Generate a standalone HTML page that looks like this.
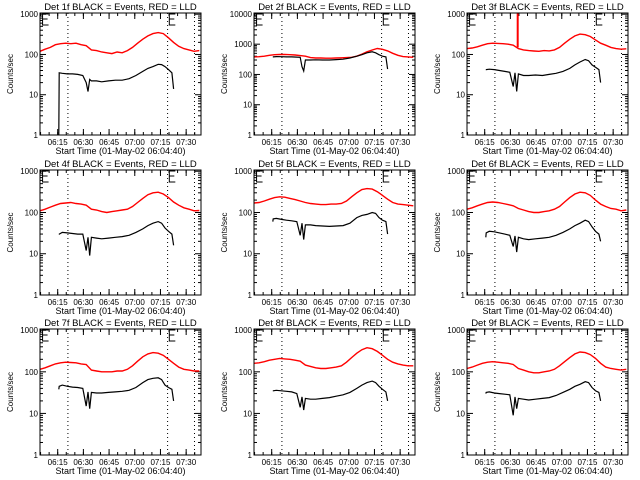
<!DOCTYPE html>
<html><head><meta charset="utf-8"><style>
body{margin:0;background:#fff;}
svg{display:block;}
text{font-family:"Liberation Sans",sans-serif;fill:#000;}
</style></head><body>
<svg id="chart" width="640" height="480" viewBox="0 0 640 480"></svg>
<script>
const redTimes=[0,3,6,9,12,15,18,21,24,27,30,33,36,39,42,45,48,51,54,57,60,63,66,69,72,75,78,81,84,87,90,93];
const blackTimes=[11,11.2,13,16,19,22,25,27,28,29,30,33,36,40,44,48,52,56,60,63,66,69,71,73,75,77,78];
const panelNames=["1f","2f","3f","4f","5f","6f","7f","8f","9f"];
const panelDecades=[3,4,3,3,3,3,3,3,3];
const xTickLabels=["06:15","06:30","06:45","07:00","07:15","07:30"];
const xTickTimes=[10.333,25.333,40.333,55.333,70.333,85.333];
const dottedTimes=[16.3,74.5,90.2];
const eMarkTimes=[1.5,75.5];
const spikeTime3=29.6;
const spikeVals3=[150,1100];
const red1=[120,135,150,175,185,190,185,190,175,165,130,125,115,110,105,115,110,125,150,190,240,290,330,350,330,260,200,160,140,130,120,125];
const red2=[380,385,400,430,450,455,460,450,440,420,400,360,350,350,345,345,350,355,360,370,400,470,560,640,720,680,600,500,430,390,380,370];
const red3=[140,145,155,170,185,190,188,185,180,170,140,130,125,122,120,125,123,130,150,190,240,290,320,310,280,230,190,170,150,140,135,138];
const red4=[110,120,135,150,165,170,175,165,160,150,120,115,105,100,105,110,115,120,140,175,220,270,300,310,280,230,180,150,130,120,110,112];
const red5=[170,175,190,210,230,240,235,220,205,190,175,165,160,155,155,160,160,165,190,240,300,360,380,370,320,260,210,175,160,155,150,145];
const red6=[120,130,145,160,175,180,175,165,155,145,125,115,105,100,100,105,110,120,140,180,230,280,310,300,260,200,160,140,125,120,110,115];
const red7=[115,125,140,155,165,170,168,165,155,150,110,105,100,100,100,105,105,115,140,180,230,270,290,280,250,200,160,130,115,110,105,105];
const red8=[160,165,175,190,200,210,205,200,190,180,145,135,125,120,120,125,130,140,170,220,280,340,380,360,310,250,200,170,155,145,140,140];
const red9=[120,130,145,160,170,175,170,165,160,150,120,110,100,95,95,100,105,115,140,175,220,270,300,290,260,210,160,130,120,115,110,115];
const black1=[1,35,34,33,33,32,30,20,12,24,22,22,21,22,23,23,25,30,38,45,50,57,56,50,42,35,14];
const black2=[380,380,390,385,380,380,375,370,180,130,300,300,305,300,300,310,320,350,400,450,520,560,520,450,400,380,150];
const black3=[42,42,43,42,40,38,36,16,35,12,33,30,30,31,30,32,34,38,45,55,65,75,70,55,48,42,20];
const black4=[30,30,33,32,31,30,30,12,25,9,25,24,23,24,25,26,28,33,40,48,55,60,55,42,35,30,16];
const black5=[60,70,72,68,65,63,60,28,55,22,50,50,48,47,46,47,48,55,75,85,90,100,95,75,65,60,30];
const black6=[25,32,35,34,32,30,28,15,27,11,25,23,22,23,24,25,28,33,40,48,55,65,60,45,35,30,20];
const black7=[38,45,48,45,43,42,40,15,33,13,32,31,31,32,33,34,36,42,55,65,70,72,65,48,42,38,20];
const black8=[35,35,36,35,34,33,30,14,25,12,23,22,22,23,24,26,28,32,40,48,55,60,55,45,38,33,20];
const black9=[30,32,33,31,30,29,28,9,25,13,23,22,21,22,23,24,27,32,38,45,50,58,55,42,35,32,20];
const redSeries=[red1,red2,red3,red4,red5,red6,red7,red8,red9];
const blackSeries=[black1,black2,black3,black4,black5,black6,black7,black8,black9];

const svg=document.getElementById('chart');
const NS='http://www.w3.org/2000/svg';
const colLeft=[40,254,467], plotW=161;
const rowTop=[13,170,329], rowBot=[135,295,455];
const tMax=94;
function mk(tag,attrs,parent){const e=document.createElementNS(NS,tag);for(const k in attrs)e.setAttribute(k,attrs[k]);(parent||svg).appendChild(e);return e;}

panelNames.forEach((nm,i)=>{
  const c=i%3,r=Math.floor(i/3);
  const L=colLeft[c],R=L+plotW,T=rowTop[r],B=rowBot[r];
  const dec=panelDecades[i], top=dec+0.03;
  const xs=t=>L+t/tMax*plotW;
  const ys=v=>B-(Math.log10(Math.max(v,1)))/top*(B-T);
  const g=mk('g',{});
  
  
  const title=mk('text',{x:(L+R)/2,y:T-3,'text-anchor':'middle','font-size':'9.5'},g);
  
  
  title.textContent='Det '+nm+' BLACK = Events, RED = LLD';
  const yt=mk('text',{x:0,y:0,'text-anchor':'middle','font-size':'8',transform:`translate(${L-27},${(T+B)/2}) rotate(-90)`},g);
  
  
  yt.textContent='Counts/sec';
  const xt=mk('text',{x:(L+R)/2,y:B+19,'text-anchor':'middle','font-size':'9'},g);
  
  
  xt.textContent='Start Time (01-May-02 06:04:40)';
  for(let d=0;d<=dec;d++){
    const y=ys(Math.pow(10,d));
    mk('line',{x1:L,x2:L+6,y1:y,y2:y,stroke:'#000','stroke-width':1},g);
    mk('line',{x1:R-6,x2:R,y1:y,y2:y,stroke:'#000','stroke-width':1},g);
    const lb=mk('text',{x:L-2,y:y+3,'text-anchor':'end','font-size':'8'},g);
    
    
    lb.textContent=String(Math.pow(10,d));
    if(d<dec){for(let m=2;m<=9;m++){const ym=ys(m*Math.pow(10,d));
      mk('line',{x1:L,x2:L+3,y1:ym,y2:ym,stroke:'#000','stroke-width':1},g);
      mk('line',{x1:R-3,x2:R,y1:ym,y2:ym,stroke:'#000','stroke-width':1},g);}}
  }
  xTickTimes.forEach((t,k)=>{
    const x=xs(t);
    mk('line',{x1:x,x2:x,y1:B,y2:B-6,stroke:'#000','stroke-width':1},g);
    mk('line',{x1:x,x2:x,y1:T,y2:T+6,stroke:'#000','stroke-width':1},g);
    const lb=mk('text',{x:x,y:B+10,'text-anchor':'middle','font-size':'8'},g);
    
    
    lb.textContent=xTickLabels[k];
  });
  for(let t=0.333;t<tMax;t+=5){const x=xs(t);
    mk('line',{x1:x,x2:x,y1:B,y2:B-3,stroke:'#000','stroke-width':1},g);
    mk('line',{x1:x,x2:x,y1:T,y2:T+3,stroke:'#000','stroke-width':1},g);}
  dottedTimes.forEach(t=>{const x=xs(t);
    const dl=mk('line',{x1:x,x2:x,y1:T,y2:B,stroke:'#000','stroke-width':1,'stroke-dasharray':'1,3'},g);
    
    });
  eMarkTimes.forEach(t=>{const x=xs(t);
    const e=mk('path',{d:`M${x+6},${T+1}H${x}V${T+12}H${x+6}M${x},${T+6}H${x+5}`,stroke:'#000','stroke-width':1,fill:'none'},g);
    
    });
  const rv=redSeries[i];
  let pr=redTimes.map((t,k)=>`${k?'L':'M'}${xs(t).toFixed(1)},${ys(rv[k]).toFixed(1)}`).join('');
  const rp=mk('path',{d:pr,stroke:'#ff0000','stroke-width':1.4,fill:'none'},g);
  
  
  if(i===2){
    const sp=mk('line',{x1:xs(spikeTime3),x2:xs(spikeTime3),y1:ys(spikeVals3[0]),y2:Math.max(T,ys(spikeVals3[1])),stroke:'#ff0000','stroke-width':2},g);
    
    
  }
  const bv=blackSeries[i];
  let pb=blackTimes.map((t,k)=>`${k?'L':'M'}${xs(t).toFixed(1)},${ys(bv[k]).toFixed(1)}`).join('');
  const bp=mk('path',{d:pb,stroke:'#000','stroke-width':1.2,fill:'none'},g);
  
  
  const fr=mk('rect',{x:L,y:T,width:plotW,height:B-T,fill:'none',stroke:'#000','stroke-width':1},g);
  
  
});
</script>
</body></html>
